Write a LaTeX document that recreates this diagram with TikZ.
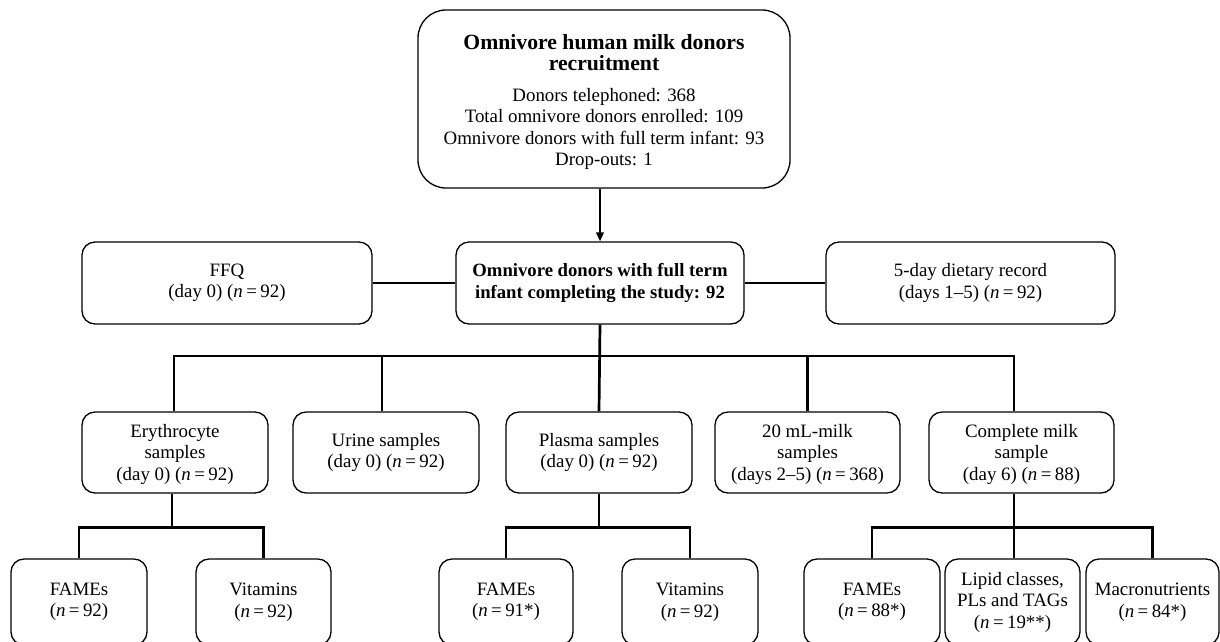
\documentclass[tikz,border=0pt]{standalone}
\usepackage{fontspec}
\setmainfont{Liberation Serif}
\usetikzlibrary{arrows.meta}
\tikzset{
  box/.style={draw, line width=1.3pt, rounded corners=13pt, align=center, inner sep=0pt,
    font=\fontsize{18.9}{21.5}\selectfont},
  conn/.style={line width=2.7pt},
}
\newcommand{\nn}{\textit{n}\hspace{0.18em}=\hspace{0.18em}}
\newcommand{\ttl}{\fontsize{21.7}{22.5}\selectfont\bfseries}
\begin{document}
\begin{tikzpicture}[x=1pt,y=-1pt]
\useasboundingbox (0,0) rectangle (1220,641);
\clip (0,0) rectangle (1220,641);
\fill[white] (0,0) rectangle (1220,641);
% top
\node[box, rounded corners=28pt, minimum width=372pt, minimum height=178pt] (topbox) at (604,99) {\rule{0pt}{21pt}\ttl Omnivore human milk donors\\ \ttl recruitment\\[9pt] Donors telephoned: 368\\Total omnivore donors enrolled: 109\\Omnivore donors with full term infant: 93\\Drop-outs: 1};
% middle row
\node[box, minimum width=288pt, minimum height=82pt, font=\fontsize{18.7}{22}\selectfont\bfseries] (mid) at (600,283) {Omnivore donors with full term\\infant completing the study: 92};
\node[box, minimum width=290pt, minimum height=82pt] (ffq) at (227,283) {FFQ\\(day 0) (\nn 92)};
\node[box, minimum width=289pt, minimum height=82pt] (diet) at (970.5,283) {5-day dietary record\\(days 1--5) (\nn 92)};
% second row
\node[box, minimum width=186pt, minimum height=81pt] (ery) at (175,452.5) {\rule{0pt}{17pt}Erythrocyte\\samples\\(day 0) (\nn 92)};
\node[box, minimum width=186pt, minimum height=81pt] (urine) at (386,452.5) {Urine samples\\(day 0) (\nn 92)};
\node[box, minimum width=186pt, minimum height=81pt] (plasma) at (599,452.5) {Plasma samples\\(day 0) (\nn 92)};
\node[box, minimum width=185pt, minimum height=81pt] (milk) at (807.5,452.5) {\rule{0pt}{17pt}20 mL-milk\\samples\\(days 2--5) (\nn 368)};
\node[box, minimum width=185pt, minimum height=81pt] (compl) at (1021.5,452.5) {\rule{0pt}{17pt}Complete milk\\sample\\(day 6) (\nn 88)};
% bottom row
\node[box, minimum width=136pt, minimum height=86pt] (ef) at (79,602) {FAMEs\\(\nn 92)};
\node[box, minimum width=135pt, minimum height=86pt] (ev) at (263.5,602) {Vitamins\\(\nn 92)};
\node[box, minimum width=134pt, minimum height=86pt] (pf) at (506,602) {FAMEs\\(\nn 91*)};
\node[box, minimum width=136pt, minimum height=86pt] (pv) at (690,602) {Vitamins\\(\nn 92)};
\node[box, minimum width=136pt, minimum height=86pt] (cf) at (872,602) {FAMEs\\(\nn 88*)};
\node[box, minimum width=135pt, minimum height=86pt] (cl) at (1012.5,602) {Lipid classes,\\PLs and TAGs\\(\nn 19**)};
\node[box, minimum width=133pt, minimum height=86pt] (cm) at (1152.5,602) {Macronutrients\\(\nn 84*)};
% coordinates
\coordinate (bus) at (0,356);
\coordinate (sub) at (0,527.5);
\coordinate (comx) at (1014,0);
\coordinate (eryx) at (174,0);
% connectors
\draw[line width=2.3pt, -{Triangle[length=9pt,width=7.5pt]}] (mid.north |- topbox.south) -- (mid.north);
\draw[conn] (ffq.east) -- (mid.west);
\draw[conn] (diet.west) -- (mid.east);
\draw[conn] (mid.south) -- (plasma.north);
\draw[conn] (eryx |- ery.north) |- (comx |- bus) -- (comx |- compl.north);
\draw[conn] ([xshift=-4pt]urine.north) -- ([xshift=-4pt]urine.north |- bus);
\draw[conn] (milk.north) -- (milk.north |- bus);
% erythrocyte subtree
\draw[conn] ([xshift=-3pt]ery.south) -- ([xshift=-3pt]ery.south |- sub);
\draw[conn] (ef.north) |- (ev.north |- sub) -- (ev.north);
% plasma subtree
\draw[conn] (plasma.south) -- (plasma.south |- sub);
\draw[conn] (pf.north) |- (pv.north |- sub) -- (pv.north);
% complete subtree
\draw[conn] (comx |- compl.south) -- (comx |- sub);
\draw[conn] (cf.north) |- (cm.north |- sub) -- (cm.north);
\draw[conn] (comx |- sub) -- (comx |- cl.north);
\end{tikzpicture}
\end{document}
